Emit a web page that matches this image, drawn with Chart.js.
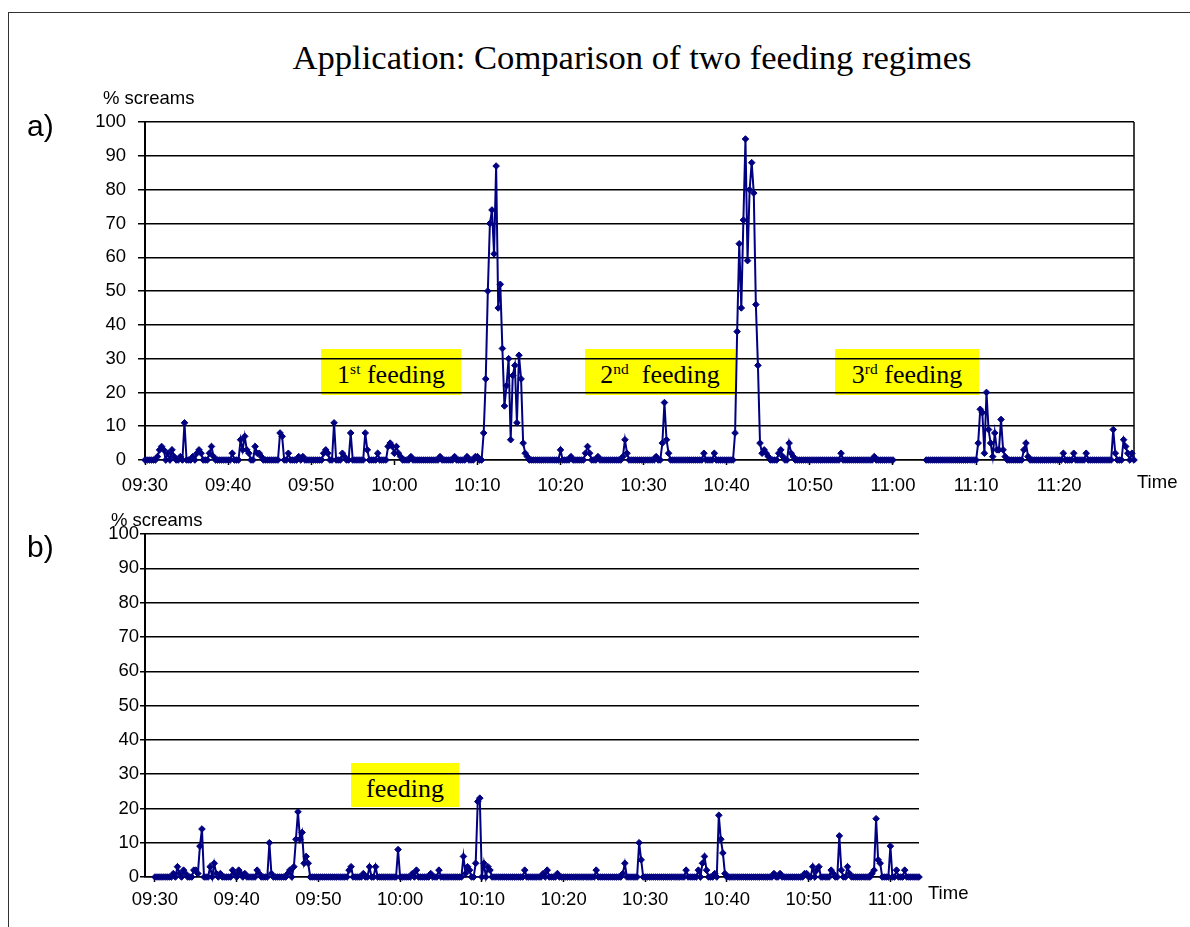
<!DOCTYPE html>
<html>
<head>
<meta charset="utf-8">
<title>Application: Comparison of two feeding regimes</title>
<script src="https://cdn.jsdelivr.net/npm/chart.js@4.4.1/dist/chart.umd.min.js"></script>
<style>
  html, body { margin: 0; padding: 0; background: #fff; }
  body { width: 1190px; height: 927px; position: relative; overflow: hidden;
         font-family: "Liberation Sans", Arial, sans-serif; color: #000; }
  .abs { position: absolute; white-space: nowrap; }
  #frame { left: 8px; top: 12px; width: 1300px; height: 1000px;
           border-left: 1.5px solid #333; border-top: 1.5px solid #333; }
  #title { left: 232px; width: 800px; top: 40px; text-align: center;
           font: 34.6px/34px "Liberation Serif", "Times New Roman", serif; }
  .lbl { font-size: 18.5px; line-height: 18.5px; }
  .part { font-size: 30px; line-height: 30px; }
  .feed { background: #ffff00; height: 46px; box-sizing: border-box; text-align: center;
          font: 26px/52px "Liberation Serif", "Times New Roman", serif; z-index: 1; }
  .feed sup { font-size: 15.5px; line-height: 0; vertical-align: 9px; }
  canvas { position: absolute; z-index: 2; }
  .top { z-index: 3; }
</style>
</head>
<body>
<div id="frame" class="abs"></div>
<div id="title" class="abs">Application: Comparison of two feeding regimes</div>

<div class="abs lbl top" style="left:103px;top:89px">% screams</div>
<div class="abs part top" style="left:27px;top:111px">a)</div>
<div class="abs lbl top" style="left:1137px;top:473px">Time</div>

<div class="abs lbl top" style="left:111px;top:511px">% screams</div>
<div class="abs part top" style="left:27px;top:532px">b)</div>
<div class="abs lbl top" style="left:928px;top:884px">Time</div>

<div class="abs feed" style="left:321px;top:349px;width:140px">1<sup>st</sup> feeding</div>
<div class="abs feed" style="left:585px;top:349px;width:150px">2<sup>nd</sup>&nbsp; feeding</div>
<div class="abs feed" style="left:835px;top:349px;width:144px">3<sup>rd</sup> feeding</div>
<div class="abs feed" style="left:351px;top:763px;width:108px;height:44px">feeding</div>

<canvas id="chartA" width="1080" height="401" style="left:70px;top:99px"></canvas>
<canvas id="chartB" width="870" height="393" style="left:70px;top:522px"></canvas>

<script>
// one reading every 15 s, starting 09:30
const sampleMinutes = 0.25;

const tickMinutesA = [0, 10, 20, 30, 40, 50, 60, 70, 80, 90, 100, 110];
const tickLabelsA = ['09:30', '09:40', '09:50', '10:00', '10:10', '10:20',
                     '10:30', '10:40', '10:50', '11:00', '11:10', '11:20'];
const tickMinutesB = [0, 10, 20, 30, 40, 50, 60, 70, 80, 90];
const tickLabelsB = ['09:30', '09:40', '09:50', '10:00', '10:10',
                     '10:20', '10:30', '10:40', '10:50', '11:00'];

// a) three feedings, % screams (one row = 10 minutes, groups of 4 = 1 minute)
const screamsA = [
  0,0,0,0, 0,0,1,3, 4,3,0,2, 0,3,1,0, 0,1,0,11, 0,0,0,1, 0,2,3,2, 0,0,0,2, 4,1,0,0, 0,0,0,0,
  0,0,2,0, 0,0,6,3, 7,3,2,0, 0,4,2,2, 1,0,0,0, 0,0,0,0, 0,8,7,0, 0,2,0,0, 0,0,1,0, 1,0,0,0,
  0,0,0,0, 0,0,2,3, 2,0,0,11, 0,0,0,2, 1,0,0,8, 0,0,0,0, 0,0,8,3, 0,0,0,0, 2,0,0,0, 0,4,5,4,
  2,4,2,1, 0,0,0,0, 1,0,0,0, 0,0,0,0, 0,0,0,0, 0,0,1,0, 0,0,0,0, 0,1,0,0, 0,0,0,1, 0,0,0,1,
  1,0,0,8, 24,50,70,74, 61,87,45,52, 33,16,22,30, 6,25,28,11, 31,24,5,2, 1,0,0,0, 0,0,0,0, 0,0,0,0, 0,0,0,0,
  3,0,0,0, 0,1,0,0, 0,0,0,0, 2,4,2,0, 0,0,1,0, 0,0,0,0, 0,0,0,0, 0,0,1,6, 2,0,0,0, 0,0,0,0,
  0,0,0,0, 0,0,1,0, 0,5,17,6, 2,0,0,0, 0,0,0,0, 0,0,0,0, 0,0,0,0, 0,2,0,0, 0,0,2,0, 0,0,0,0,
  0,0,0,0, 8,38,64,45, 71,95,59,80, 88,79,46,28, 5,2,3,2, 1,0,0,0, 0,2,3,1, 0,0,5,2, 1,0,0,0, 0,0,0,0,
  0,0,0,0, 0,0,0,0, 0,0,0,0, 0,0,0,2, 0,0,0,0, 0,0,0,0, 0,0,0,0, 0,0,0,1, 0,0,0,0, 0,0,0,0,
  0,null,null,null, null,null,null,null, null,null,null,null, null,null,null,null,
  0,0,0,0, 0,0,0,0, 0,0,0,0, 0,0,0,0, 0,0,0,0, 0,0,0,0,
  0,5,15,14, 2,20,9,5, 1,8,3,3, 12,3,1,0, 0,0,0,0, 0,0,0,3, 5,1,0,0, 0,0,0,0, 0,0,0,0, 0,0,0,0,
  0,0,2,0, 0,0,0,2, 0,0,0,0, 0,2,0,0, 0,0,0,0, 0,0,0,0, 0,0,9,2, 0,0,0,6, 4,2,0,2, 0
];

// b) one feeding, % screams
const screamsB = [
  0,0,0,0, 0,0,0,0, 0,1,0,3, 1,0,2,1, 0,0,0,2, 2,1,9,14, 0,0,0,3, 0,4,1,0, 1,0,0,0, 0,0,2,1,
  0,2,1,0, 1,0,0,0, 0,0,2,1, 0,0,0,0, 10,1,0,0, 0,0,0,0, 0,1,2,0, 3,11,19,11, 13,4,6,4, 0,0,0,0,
  0,0,0,0, 0,0,0,0, 0,0,0,0, 0,0,0,2, 3,0,0,0, 0,0,1,0, 0,3,0,0, 3,0,0,0, 0,0,0,0, 0,0,0,8,
  0,0,0,0, 0,0,1,0, 2,0,0,0, 0,0,0,1, 0,0,0,2, 0,0,0,0, 0,0,0,0, 0,0,0,6, 1,3,2,0, 0,4,22,23,
  0,4,0,3, 2,0,0,0, 0,0,0,0, 0,0,0,0, 0,0,0,0, 0,2,0,0, 0,0,0,0, 0,0,1,0, 2,0,0,0, 0,1,0,0,
  0,0,0,0, 0,0,0,0, 0,0,0,0, 0,0,0,0, 2,0,0,0, 0,0,0,0, 0,0,0,0, 0,1,4,0, 0,0,0,0, 0,10,5,0,
  0,0,0,0, 0,0,0,0, 0,0,0,0, 0,0,0,0, 0,0,0,0, 2,0,0,0, 0,0,2,0, 4,6,2,0, 0,0,1,0, 18,11,7,1,
  0,0,0,0, 0,0,0,0, 0,0,0,0, 0,0,0,0, 0,0,0,0, 0,0,0,1, 0,0,1,0, 0,0,0,0, 0,0,0,0, 0,0,1,1,
  0,0,3,0, 2,3,0,0, 0,0,0,2, 1,0,0,12, 2,0,0,3, 1,0,0,0, 0,0,0,0, 0,0,0,1, 2,17,5,4, 0,0,0,0,
  9,0,0,2, 0,0,0,2, 0,0,0,0, 0,0,0,0
];

const NAVY = '#000080';
const tickFont = { family: '"Liberation Sans", Arial, sans-serif', size: 18.5 };

function toPoints(values) {
  return values.map((v, i) => ({ x: i * sampleMinutes, y: v }));
}

const rightEdge = {
  id: 'rightEdge',
  beforeDatasetsDraw(chart) {
    const { ctx, chartArea: a } = chart;
    ctx.save();
    ctx.strokeStyle = '#000';
    ctx.lineWidth = 1.5;
    ctx.beginPath();
    ctx.moveTo(a.right, a.top);
    ctx.lineTo(a.right, a.bottom);
    ctx.stroke();
    ctx.restore();
  }
};

function buildChart(id, values, ticksAt, tickText, lay, extra) {
  return new Chart(document.getElementById(id), {
    type: 'line',
    data: {
      datasets: [{
        data: toPoints(values),
        borderColor: NAVY,
        backgroundColor: NAVY,
        borderWidth: 2,
        pointStyle: 'rectRot',
        pointRadius: 3.3,
        pointBorderWidth: 1,
        pointBackgroundColor: NAVY,
        pointBorderColor: NAVY,
        tension: 0,
        clip: 8
      }]
    },
    options: {
      responsive: false,
      animation: false,
      devicePixelRatio: 1,
      layout: { padding: { left: 0, top: lay.padTop, right: lay.padRight, bottom: 0 } },
      plugins: { legend: { display: false }, tooltip: { enabled: false } },
      scales: {
        x: {
          type: 'linear',
          min: lay.xMin,
          max: lay.xMax,
          afterBuildTicks: s => { s.ticks = ticksAt.map(v => ({ value: v })); },
          afterFit: s => { s.height = lay.xAxisHeight; },
          grid: { drawOnChartArea: false, drawTicks: true, tickLength: 5, tickColor: '#000', tickWidth: 1.5 },
          border: { display: true, color: '#000', width: 1.5 },
          ticks: {
            callback: (v, i) => tickText[i],
            color: '#000', font: tickFont, padding: lay.xTickPad,
            maxRotation: 0, autoSkip: false
          }
        },
        y: {
          min: 0,
          max: 100,
          afterFit: s => { s.width = lay.yAxisWidth; },
          ticks: { stepSize: 10, color: '#000', font: tickFont, padding: lay.yTickPad },
          grid: { color: '#000', lineWidth: 1.5, tickLength: lay.yTickLen, tickColor: '#000' },
          border: { color: '#000', width: 2 }
        }
      }
    },
    plugins: extra
  });
}

buildChart('chartA', screamsA, tickMinutesA, tickLabelsA, {
  xMin: 0, xMax: 119, padTop: 0, padRight: 16, xAxisHeight: 40, yAxisWidth: 75,
  xTickPad: 10, yTickPad: 12, yTickLen: 7
}, [rightEdge]);

buildChart('chartB', screamsB, tickMinutesB, tickLabelsB, {
  xMin: -1.22, xMax: 93.5, padTop: 0, padRight: 21, xAxisHeight: 38, yAxisWidth: 75,
  xTickPad: 7, yTickPad: 1, yTickLen: 5
}, []);
</script>
</body>
</html>
